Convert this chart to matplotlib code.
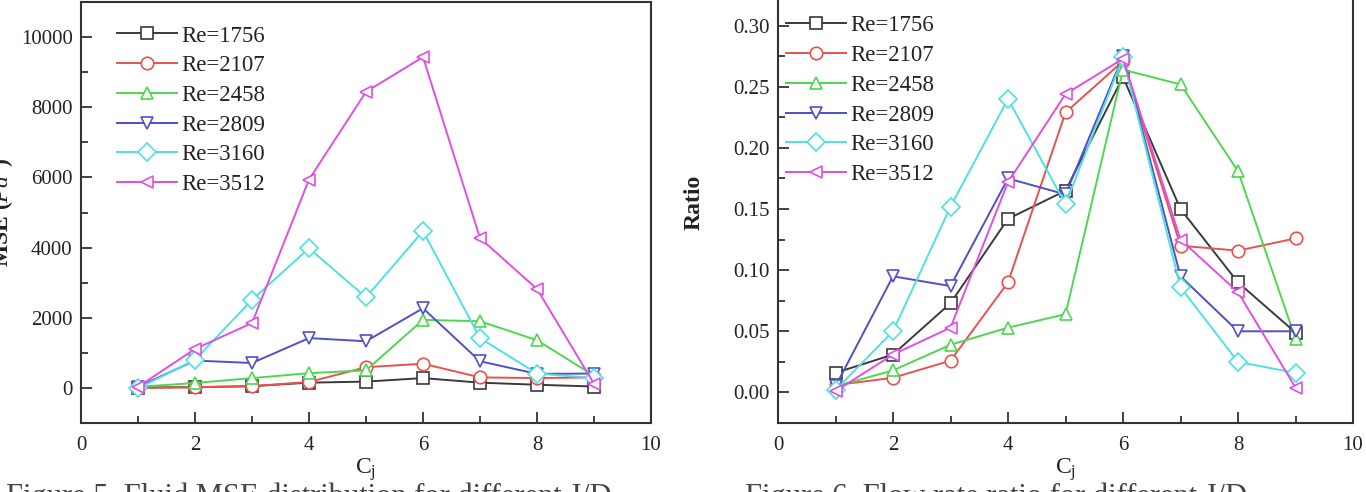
import matplotlib
matplotlib.use("Agg")
import matplotlib.pyplot as plt
from matplotlib.ticker import MultipleLocator

plt.rcParams['font.family'] = ['Liberation Serif', 'DejaVu Serif']
plt.rcParams['mathtext.fontset'] = 'custom'
plt.rcParams['mathtext.rm'] = 'Liberation Serif'
plt.rcParams['mathtext.it'] = 'Liberation Serif:italic'
plt.rcParams['mathtext.bf'] = 'Liberation Serif:bold'

cj = [1, 2, 3, 4, 5, 6, 7, 8, 9]
labels = ["Re=1756", "Re=2107", "Re=2458", "Re=2809", "Re=3160", "Re=3512"]
colors = ["#3a3a3a", "#e8524e", "#4fd64f", "#4f4fc8", "#4fe0e0", "#e04fe0"]
markers = ["s", "o", "^", "v", "D", "<"]

mse_1756 = [10, 20, 50, 150, 180, 280, 150, 90, 40]
mse_2107 = [0, 20, 50, 170, 590, 690, 300, 280, 300]
mse_2458 = [30, 140, 280, 420, 500, 1940, 1900, 1360, 350]
mse_2809 = [30, 780, 710, 1420, 1330, 2270, 760, 400, 410]
mse_3160 = [-10, 800, 2510, 3980, 2580, 4470, 1420, 410, 280]
mse_3512 = [30, 1110, 1850, 5940, 8440, 9430, 4270, 2820, 120]
mse = [mse_1756, mse_2107, mse_2458, mse_2809, mse_3160, mse_3512]

ratio_1756 = [0.016, 0.031, 0.073, 0.142, 0.165, 0.258, 0.150, 0.090, 0.049]
ratio_2107 = [0.006, 0.012, 0.026, 0.090, 0.229, 0.271, 0.120, 0.116, 0.126]
ratio_2458 = [0.005, 0.018, 0.039, 0.053, 0.064, 0.264, 0.252, 0.181, 0.044]
ratio_2809 = [0.005, 0.095, 0.087, 0.175, 0.162, 0.275, 0.095, 0.050, 0.050]
ratio_3160 = [0.002, 0.050, 0.152, 0.240, 0.154, 0.274, 0.086, 0.025, 0.016]
ratio_3512 = [0.001, 0.031, 0.053, 0.172, 0.244, 0.273, 0.125, 0.082, 0.004]
ratio = [ratio_1756, ratio_2107, ratio_2458, ratio_2809, ratio_3160, ratio_3512]

W, H = 1366, 492
fig = plt.figure(figsize=(W / 100, H / 100), dpi=100)

def frac(x0, y_top, x1, y_bot):
    return [x0 / W, 1 - y_bot / H, (x1 - x0) / W, (y_bot - y_top) / H]

ax1 = fig.add_axes(frac(81, 2, 651, 423))
ax2 = fig.add_axes(frac(778, -11, 1353, 423))

spine_c = "#333333"
for ax, data in [(ax1, mse), (ax2, ratio)]:
    for vals, lab, c, m in zip(data, labels, colors, markers):
        ax.plot(cj, vals, color=c, marker=m, markerfacecolor="white",
                markeredgecolor=c, markersize=9, markeredgewidth=1.2,
                linewidth=1.4, label=lab, clip_on=False)
    ax.set_xlim(0, 10)
    ax.xaxis.set_major_locator(MultipleLocator(2))
    ax.xaxis.set_minor_locator(MultipleLocator(1))
    ax.tick_params(which="both", direction="in", labelsize=15, colors=spine_c,
                   labelcolor="#222222", width=1.3, top=False, right=False)
    ax.tick_params(which="major", length=8)
    ax.tick_params(which="minor", length=5)
    ax.tick_params(axis="x", pad=9)
    ax.tick_params(axis="y", pad=6)
    for s in ax.spines.values():
        s.set_color(spine_c)
        s.set_linewidth(1.5)
    ax.set_xlabel("C$_\\mathrm{j}$", fontsize=17, color="#222222", labelpad=1)

ax1.set_ylim(-1000, 11000)
ax1.yaxis.set_major_locator(MultipleLocator(2000))
ax1.yaxis.set_minor_locator(MultipleLocator(1000))
ax1.set_ylabel("MSE ($\\mathbf{\\mathit{Pa}}^\\mathbf{2}$)", fontsize=17,
               color="#222222", fontweight="bold")
ax1.yaxis.set_label_coords(-(81 - 17) / 570, 0.5)

ax2.set_ylim(-0.025, 0.33)
ax2.yaxis.set_major_locator(MultipleLocator(0.05))
ax2.yaxis.set_minor_locator(MultipleLocator(0.025))
ax2.yaxis.set_major_formatter(plt.FormatStrFormatter("%.2f"))
ax2.set_ylabel("Ratio", fontsize=17, color="#222222", fontweight="bold")
ax2.yaxis.set_label_coords(-(778 - 705) / 575, (423 - 202) / 434)

leg_kw = dict(frameon=False, fontsize=16.5, handlelength=2.6, handletextpad=0.2,
              labelspacing=0.38, borderpad=0, labelcolor="#222222")
ax1.legend(loc="upper left", bbox_to_anchor=((106 - 81) / 570, (423 - 14) / 421), **leg_kw)
ax2.legend(loc="upper left", bbox_to_anchor=((775 - 778) / 575, (423 - 4) / 434), **leg_kw)

fig.text(6 / W, 1 - 483 / H, "Figure 5. Fluid MSE distribution for different J/D",
         fontsize=22, color="#444444", va="top", ha="left")
fig.text(745 / W, 1 - 483 / H, "Figure 6. Flow rate ratio for different J/D",
         fontsize=22, color="#444444", va="top", ha="left")

fig.savefig("out.png", dpi=100)
